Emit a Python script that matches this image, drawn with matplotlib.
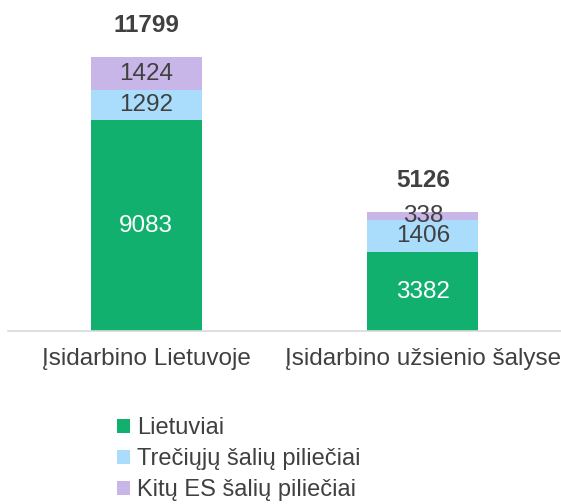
import matplotlib.pyplot as plt
from matplotlib.patches import Patch

plt.rcParams['font.family'] = ['Liberation Sans', 'DejaVu Sans']

categories = ["Įsidarbino Lietuvoje", "Įsidarbino užsienio šalyse"]
series_names = ["Lietuviai", "Trečiųjų šalių piliečiai", "Kitų ES šalių piliečiai"]
lietuviai = [9083, 3382]
treciuju = [1292, 1406]
kitu_es = [1424, 338]
totals = [11799, 5126]

colors = ["#12b06e", "#a9ddfb", "#c9b6e8"]
label_colors = ["white", "#404040", "#404040"]

fig = plt.figure(figsize=(5.61, 5.04), dpi=100)
ax = fig.add_axes([0.0143, 0.3433, 0.9857, 0.6448])

x = range(len(categories))
bottom = [0, 0]
for vals, col, lc in zip([lietuviai, treciuju, kitu_es], colors, label_colors):
    bars = ax.bar(x, vals, width=0.4, bottom=bottom, color=col)
    ax.bar_label(bars, labels=[str(v) for v in vals], label_type="center",
                 color=lc, fontsize=17.5)
    bottom = [b + v for b, v in zip(bottom, vals)]

for i, t in enumerate(totals):
    ax.annotate(str(t), (i, t), xytext=(0, 23), textcoords="offset points",
                ha="center", va="center", fontsize=17.5, fontweight="bold",
                color="#404040")

ax.set_xlim(-0.5, 1.5)
ax.set_ylim(0, 14000)
ax.set_xticks(list(x))
ax.set_xticklabels(categories, fontsize=17.5, color="#404040")
ax.tick_params(axis="x", length=0, pad=12)
ax.set_yticks([])
for s in ["top", "right", "left"]:
    ax.spines[s].set_visible(False)
ax.spines["bottom"].set_color("#d9d9d9")
ax.spines["bottom"].set_linewidth(1.2)

handles = [Patch(facecolor=c, edgecolor="none") for c in colors]
leg = fig.legend(handles, series_names, loc="upper left",
                 bbox_to_anchor=(0.208, 0.172), frameon=False, fontsize=17,
                 handlelength=0.55, handleheight=0.55, handletextpad=0.3,
                 labelspacing=0.38, borderpad=0, borderaxespad=0)
for t in leg.get_texts():
    t.set_color("#404040")

fig.savefig("out.png", dpi=100)
